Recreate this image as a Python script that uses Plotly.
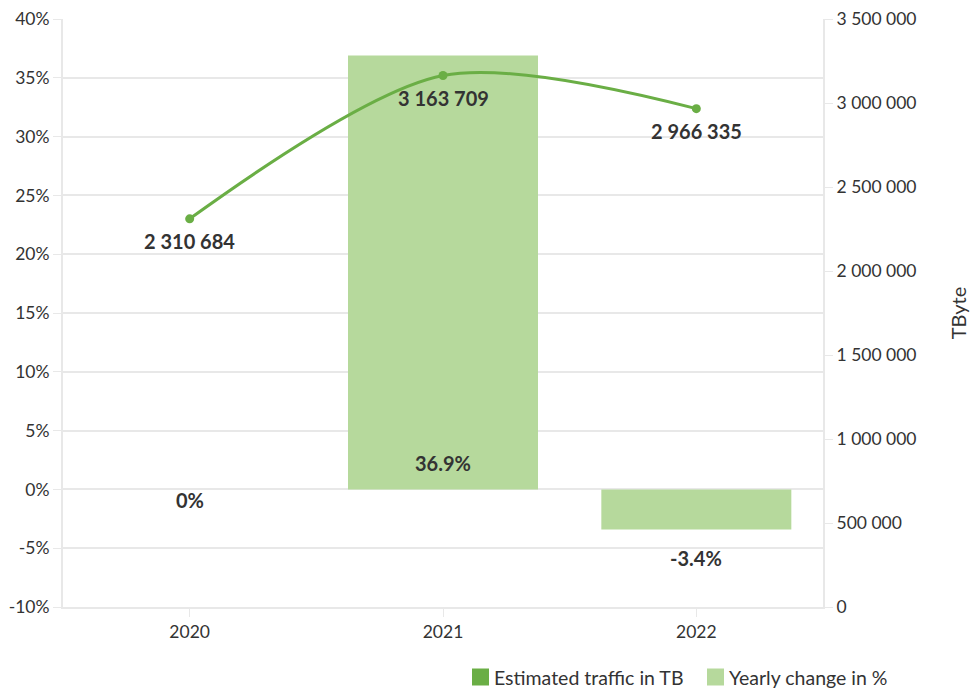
import plotly.graph_objects as go

years = ["2020", "2021", "2022"]
yearly_change_pct = [0.0, 36.9, -3.4]
traffic_tb = [2310684, 3163709, 2966335]

pct_ticks = [-10, -5, 0, 5, 10, 15, 20, 25, 30, 35, 40]
pct_tick_text = [f"{v}%" for v in pct_ticks]

legend_names = ["Estimated traffic in TB", "Yearly change in %"]

line_color = "#6aae45"
bar_color = "#b6d99c"
grid_color = "#e8e8e8"
text_color = "#333333"
font_family = "Lato, 'Noto Sans', sans-serif"
label_font = dict(size=20, color=text_color, family=font_family, weight="bold")

# plot area in pixels (used to place the legend in paper coordinates)
W, H = 970, 691
ML, MR, MT, MB = 63, 147, 19, 84
PW, PH = W - ML - MR, H - MT - MB


def px_x(x):
    return (x - ML) / PW


def px_y(y):
    return (H - MB - y) / PH


fig = go.Figure()

# Yearly change bars on the left (percent) axis
fig.add_trace(go.Bar(
    x=years, y=yearly_change_pct, name=legend_names[1],
    marker=dict(color=bar_color, line=dict(width=0)),
    width=0.75, yaxis="y", showlegend=False,
))

# Traffic line on the right (TByte) axis
fig.add_trace(go.Scatter(
    x=years, y=traffic_tb, name=legend_names[0],
    mode="lines+markers", yaxis="y2",
    line=dict(color=line_color, width=3, shape="spline", smoothing=0.85),
    marker=dict(color=line_color, size=9),
    showlegend=False,
))

# Value labels under the traffic points
for i, v in enumerate(traffic_tb):
    fig.add_annotation(x=i, y=v, xref="x", yref="y2", text=f"{v:,}".replace(",", " "),
                       yanchor="middle", yshift=-22, showarrow=False, font=label_font)

# Percent labels for the bars (category index positions)
for i, v in enumerate(yearly_change_pct):
    if v > 0:
        txt, y, shift = f"{v:.1f}%", 0, 26
    elif v < 0:
        txt, y, shift = f"{v:.1f}%", v, -29
    else:
        txt, y, shift = f"{v:.0f}%", 0, -11
    fig.add_annotation(x=i, y=y, xref="x", yref="y", text=txt, yanchor="middle",
                       yshift=shift, showarrow=False, font=label_font)

# Legend: square swatches with labels along the bottom right
legend_items = [(472, line_color, legend_names[0]), (707, bar_color, legend_names[1])]
for x0, col, name in legend_items:
    fig.add_shape(type="rect", xref="paper", yref="paper",
                  x0=px_x(x0), x1=px_x(x0 + 17), y0=px_y(685.5), y1=px_y(668.5),
                  fillcolor=col, line=dict(width=0))
    fig.add_annotation(xref="paper", yref="paper", x=px_x(x0 + 20), y=px_y(677),
                       xanchor="left", yanchor="middle", text=name, showarrow=False,
                       font=dict(size=19.5, color=text_color, family=font_family))

fig.update_layout(
    width=W, height=H,
    margin=dict(l=ML, r=MR, t=MT, b=MB, autoexpand=False),
    paper_bgcolor="white", plot_bgcolor="white",
    separators=". ",
    font=dict(family=font_family, size=17, color=text_color),
    showlegend=False,
    xaxis=dict(
        type="category", categoryorder="array", categoryarray=years,
        range=[-0.5, len(years) - 0.5], automargin=False,
        showgrid=False, showline=True, linecolor=grid_color, linewidth=2,
        ticks="outside", ticklen=8, tickcolor=grid_color, tickfont=dict(size=17.5),
    ),
    yaxis=dict(
        range=[-10, 40], tickmode="array", tickvals=pct_ticks, ticktext=pct_tick_text,
        automargin=False,
        showgrid=True, gridcolor=grid_color, gridwidth=2, zeroline=False,
        showline=True, linecolor=grid_color, linewidth=2,
        ticks="outside", ticklen=8, tickcolor=grid_color, tickfont=dict(size=17.5),
    ),
    yaxis2=dict(
        overlaying="y", side="right", range=[0, 3500000], dtick=500000, tickformat=",d",
        automargin=False,
        showgrid=False, zeroline=False, showline=True, linecolor=grid_color, linewidth=2,
        ticks="outside", ticklen=8, tickcolor=grid_color, tickfont=dict(size=17.5),
        title=dict(text="TByte", font=dict(size=20), standoff=36),
    ),
)

fig.write_html("out.html")
